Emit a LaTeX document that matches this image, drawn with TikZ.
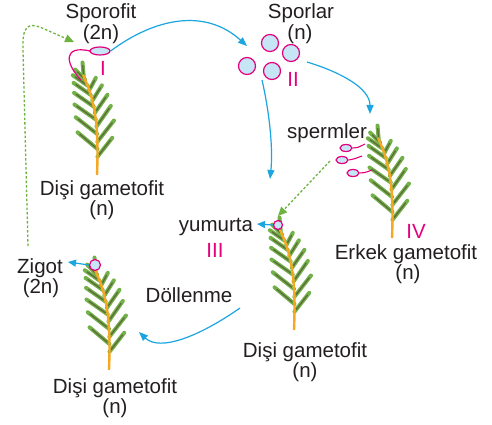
\documentclass[tikz,border=0pt]{standalone}
\usepackage{fontspec}
\setmainfont{Liberation Sans}
\usetikzlibrary{arrows.meta,shapes.geometric}
\definecolor{txt}{HTML}{231F20}
\definecolor{mag}{HTML}{E5007E}
\definecolor{cellfill}{HTML}{C6E6F5}
\definecolor{arrowblue}{HTML}{1BA6E0}
\definecolor{dotgreen}{HTML}{6DB33F}
\definecolor{leafgreen}{HTML}{72B048}
\definecolor{leafdark}{HTML}{5E6B3A}
\definecolor{stemorange}{HTML}{F7A823}
\tikzset{
  fern/.pic={
    \foreach \p/\a/\l in {0.02/-95/14, 0.06/-135/14, 0.14/-145/18, 0.20/-62/14,
        0.26/-145/21, 0.33/-58/18, 0.40/-145/24, 0.47/-55/22, 0.54/-145/26,
        0.61/-55/25, 0.68/-142/27, 0.75/-52/27, 0.81/-140/26, 0.87/-52/24}{
      \pgfmathsetmacro{\m}{\l-6}
      \path (0,0) .. controls (12,25) and (16,50) .. (14,100) coordinate[pos=\p] (s);
      \draw[leafgreen, line width=4pt, line cap=round] (s) -- ++(\a:\l);
      \draw[leafdark, line width=1.3pt, line cap=round] (s) ++(\a:3) -- ++(\a:\m);
    }
    \draw[stemorange, line width=2.4pt] (0,0) .. controls (12,25) and (16,50) .. (14,100);
  }
}
\begin{document}
\begin{tikzpicture}[x=1pt,y=-1pt,
  lbl/.style={font=\fontsize{20.5}{20}\selectfont, text=txt, anchor=base, inner sep=0pt},
  roman/.style={font=\fontsize{20.5}{20}\selectfont, text=mag, anchor=base, inner sep=0pt},
  cyc/.style={draw=arrowblue, line width=1.2pt, -{Triangle[length=9pt,width=7pt]}},
  dotarrow/.style={draw=dotgreen, line width=1.3pt, dash pattern=on 2.5pt off 2pt, -{Triangle[length=9pt,width=8pt]}},
  cell/.style={draw=mag, fill=cellfill, line width=1.2pt, inner sep=0pt},
]
\fill[white] (0,0) rectangle (492,425);
\useasboundingbox (0,0) rectangle (492,425);

% plants
\pic at (83,75) {fern};
\pic at (378,138) {fern};
\pic at (280,230) {fern};
\pic at (95,270) {fern};

% labels
\node[lbl] (sporofit) at (101,19) {Sporofit};
\node[lbl] (sporofitn) at (101,40) {(2n)};
\node[roman] (rI) at (103,76) {I};
\node[lbl] (sporlar) at (301,19) {Sporlar};
\node[lbl] (sporlarn) at (300,40) {(n)};
\node[roman] (rII) at (293,87) {II};
\node[lbl] (dg1) at (102,195) {Dişi gametofit};
\node[lbl] (dg1n) at (102,215) {(n)};
\node[lbl] (sperm) at (327,138) {spermler};
\node[roman] (rIV) at (416,238) {IV};
\node[lbl] (erkek) at (406,259) {Erkek gametofit};
\node[lbl] (erkekn) at (408,279) {(n)};
\node[lbl] (yum) at (216,231) {yumurta};
\node[roman] (rIII) at (215,257) {III};
\node[lbl] (dg2) at (305,357) {Dişi gametofit};
\node[lbl] (dg2n) at (305,377) {(n)};
\node[lbl] (zigot) at (40,273) {Zigot};
\node[lbl] (zigotn) at (41,293) {(2n)};
\node[lbl] (dol) at (189,302) {Döllenme};
\node[lbl] (dg3) at (115,393) {Dişi gametofit};
\node[lbl] (dg3n) at (115,413) {(n)};

% sporophyte capsule and seta
\coordinate (setaend) at (81,80);
\draw[mag, line width=1.2pt] (90,51) .. controls (64,45) and (64,62) .. (setaend);
\node[cell, ellipse, minimum width=20pt, minimum height=8pt] (caps) at (100,51) {};

% spores
\node[cell, circle, minimum size=17pt] (sp1) at (270,43) {};
\node[cell, circle, minimum size=17pt] (sp2) at (291,53) {};
\node[cell, circle, minimum size=17pt] (sp3) at (247,66) {};
\node[cell, circle, minimum size=17pt] (sp4) at (272,71) {};

% sperms
\node[cell, ellipse, minimum width=12pt, minimum height=7pt] (spm1) at (346,148) {};
\node[cell, ellipse, minimum width=12pt, minimum height=7pt] (spm2) at (342,160) {};
\node[cell, ellipse, minimum width=12pt, minimum height=7pt] (spm3) at (353,173) {};
\coordinate (t1) at (365,144);
\coordinate (t2) at (362,156);
\coordinate (t3) at (372,170);
\draw[mag, line width=1.1pt] (spm1.east) .. controls (357,148) .. (t1);
\draw[mag, line width=1.1pt] (spm2.east) .. controls (354,159) .. (t2);
\draw[mag, line width=1.1pt] (spm3.east) .. controls (364,173) .. (t3);

% egg and zygote
\node[cell, circle, minimum size=9pt] (egg) at (278,225) {};
\node[cell, circle, minimum size=11pt] (zyg) at (95,265) {};

% arrows
\coordinate (a1end) at (247,46);
\draw[cyc] (caps.east) .. controls (155,18) and (205,8) .. (a1end);
\coordinate (a2start) at (307,62);
\coordinate (a2end) at (370,114);
\draw[cyc] (a2start) .. controls (340,72) and (370,88) .. (a2end);
\coordinate (a3start) at (262,80);
\coordinate (a3end) at (270,179);
\draw[cyc] (a3start) .. controls (270,115) and (273,150) .. (a3end);
\coordinate (eggtip) at (257,224);
\draw[cyc, -{Triangle[length=8pt,width=7pt]}] (egg.west) -- (eggtip);
\coordinate (zygtip) at (68,262);
\draw[cyc, -{Triangle[length=8pt,width=7pt]}] (zyg.west) -- (zygtip);
\coordinate (dstart) at (240,308);
\coordinate (dend) at (139,332);
\draw[cyc] (dstart) .. controls (200,336) and (160,352) .. (dend);

% dotted green arrows
\coordinate (gstart) at (330,161);
\coordinate (gend) at (278,216);
\draw[dotarrow] (gstart) -- (gend);
\coordinate (zstart) at (28,246);
\coordinate (zend) at (74,42);
\draw[dotarrow] (zstart) -- (23,50) .. controls (22,26) and (28,22) .. (42,28) -- (zend);
\end{tikzpicture}
\end{document}
